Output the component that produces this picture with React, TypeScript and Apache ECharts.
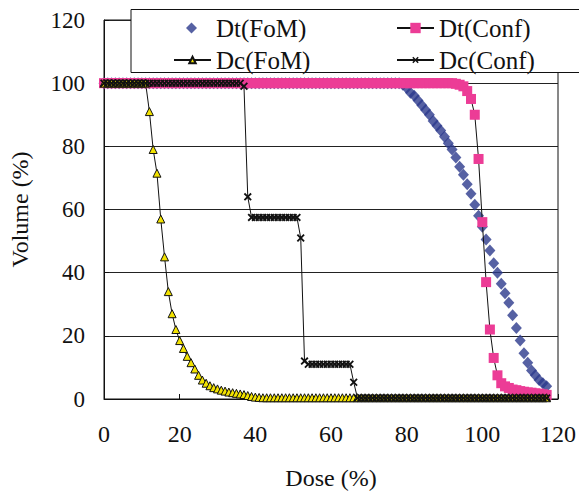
import React, { useEffect, useRef } from 'react';
import * as echarts from 'echarts';

const doses = [
  0, 1, 2, 3, 4, 5, 6, 7, 8, 9,
  10, 11, 12, 13, 14, 15, 16, 17, 18, 19,
  20, 21, 22, 23, 24, 25, 26, 27, 28, 29,
  30, 31, 32, 33, 34, 35, 36, 37, 38, 39,
  40, 41, 42, 43, 44, 45, 46, 47, 48, 49,
  50, 51, 52, 53, 54, 55, 56, 57, 58, 59,
  60, 61, 62, 63, 64, 65, 66, 67, 68, 69,
  70, 71, 72, 73, 74, 75, 76, 77, 78, 79,
  80, 81, 82, 83, 84, 85, 86, 87, 88, 89,
  90, 91, 92, 93, 94, 95, 96, 97, 98, 99,
  100, 101, 102, 103, 104, 105, 106, 107, 108, 109,
  110, 111, 112, 113, 114, 115, 116, 117,
];

const dtFoM = [
  100, 100, 100, 100, 100, 100, 100, 100, 100, 100,
  100, 100, 100, 100, 100, 100, 100, 100, 100, 100,
  100, 100, 100, 100, 100, 100, 100, 100, 100, 100,
  100, 100, 100, 100, 100, 100, 100, 100, 100, 100,
  100, 100, 100, 100, 100, 100, 100, 100, 100, 100,
  100, 100, 100, 100, 100, 100, 100, 100, 100, 100,
  100, 100, 100, 100, 100, 100, 100, 100, 100, 100,
  100, 100, 100, 100, 100, 100, 100, 100, 100, 99.5,
  98.5, 97, 96, 94.5, 93, 91.5, 90, 88, 86.5, 85,
  83, 81, 79, 76.5, 73.5, 71, 68, 65, 61.5, 58,
  54.5, 50.5, 47, 43, 40, 36.5, 33.5, 30.5, 26.5, 22.5,
  18.5, 14.5, 11.5, 9, 7.5, 6, 5, 4,
];

const dtConf = [
  100, 100, 100, 100, 100, 100, 100, 100, 100, 100,
  100, 100, 100, 100, 100, 100, 100, 100, 100, 100,
  100, 100, 100, 100, 100, 100, 100, 100, 100, 100,
  100, 100, 100, 100, 100, 100, 100, 100, 100, 100,
  100, 100, 100, 100, 100, 100, 100, 100, 100, 100,
  100, 100, 100, 100, 100, 100, 100, 100, 100, 100,
  100, 100, 100, 100, 100, 100, 100, 100, 100, 100,
  100, 100, 100, 100, 100, 100, 100, 100, 100, 100,
  100, 100, 100, 100, 100, 100, 100, 100, 100, 100,
  100, 100, 100, 99.8, 99.5, 99, 97.5, 95, 90, 76,
  56, 37, 22, 13, 7.5, 5, 4, 3.5, 3, 2.8,
  2.5, 2.3, 2.1, 2, 1.8, 1.7, 1.5, 1.3,
];

const dcFoM = [
  100, 100, 100, 100, 100, 100, 100, 100, 100, 100,
  100, 100, 91, 79, 71.5, 57, 45, 34, 27, 22,
  18.5, 16, 13.5, 11.5, 9.5, 7.5, 6, 5, 4.2, 3.6,
  3.2, 2.8, 2.5, 2.2, 2, 1.8, 1.6, 1.4, 1.1, 0.8,
  0.6, 0.5, 0.4, 0.4, 0.4, 0.4, 0.4, 0.4, 0.4, 0.4,
  0.4, 0.4, 0.4, 0.4, 0.4, 0.4, 0.4, 0.4, 0.4, 0.4,
  0.4, 0.4, 0.4, 0.4, 0.4, 0.4, 0.4, 0.4, 0.4, 0.4,
  0.4, 0.4, 0.4, 0.4, 0.4, 0.4, 0.4, 0.4, 0.4, 0.4,
  0.4, 0.4, 0.4, 0.4, 0.4, 0.4, 0.4, 0.4, 0.4, 0.4,
  0.4, 0.4, 0.4, 0.4, 0.4, 0.4, 0.4, 0.4, 0.4, 0.4,
  0.4, 0.4, 0.4, 0.4, 0.4, 0.4, 0.4, 0.4, 0.4, 0.4,
  0.4, 0.4, 0.4, 0.4, 0.4, 0.4, 0.4, 0.4,
];

const dcConf = [
  100, 100, 100, 100, 100, 100, 100, 100, 100, 100,
  100, 100, 100, 100, 100, 100, 100, 100, 100, 100,
  100, 100, 100, 100, 100, 100, 100, 100, 100, 100,
  100, 100, 100, 100, 100, 100, 100, 99, 64, 57.5,
  57.5, 57.5, 57.5, 57.5, 57.5, 57.5, 57.5, 57.5, 57.5, 57.5,
  57.5, 57.5, 51, 12, 11, 11, 11, 11, 11, 11,
  11, 11, 11, 11, 11, 11, 5.3, 0.3, 0.3, 0.3,
  0.3, 0.3, 0.3, 0.3, 0.3, 0.3, 0.3, 0.3, 0.3, 0.3,
  0.3, 0.3, 0.3, 0.3, 0.3, 0.3, 0.3, 0.3, 0.3, 0.3,
  0.3, 0.3, 0.3, 0.3, 0.3, 0.3, 0.3, 0.3, 0.3, 0.3,
  0.3, 0.3, 0.3, 0.3, 0.3, 0.3, 0.3, 0.3, 0.3, 0.3,
  0.3, 0.3, 0.3, 0.3, 0.3, 0.3, 0.3, 0.3,
];

const seriesNames = ['Dt(FoM)', 'Dt(Conf)', 'Dc(FoM)', 'Dc(Conf)'];
const xAxisName = 'Dose (%)';
const yAxisName = 'Volume (%)';

const FONT = '"Liberation Serif", "Times New Roman", serif';
const NAVY = '#2C3A8C';
const PINK = '#EC3C96';
const YELLOW = '#F2E200';
const CROSS =
  'path://M0,1.6L1.6,0L5,3.4L8.4,0L10,1.6L6.6,5L10,8.4L8.4,10L5,6.6L1.6,10L0,8.4L3.4,5Z';

export default function App() {
  const ref = useRef<HTMLDivElement>(null);

  useEffect(() => {
    const chart = echarts.init(ref.current as HTMLDivElement, null, { renderer: 'svg' });
    const pairs = (ys: number[]) => doses.map((d, i) => [d, ys[i]]);

    const textStyle = { fontFamily: FONT, fontSize: 25, color: '#111' };
    const legendBase = {
      orient: 'horizontal',
      padding: 0,
      itemWidth: 37,
      itemGap: 5,
      selectedMode: false,
      z: 20,
      textStyle,
    };

    chart.setOption({
      animation: false,
      grid: {
        left: 103,
        right: 19,
        top: 20,
        bottom: 95,
        show: true,
        borderColor: '#111',
        borderWidth: 1,
        backgroundColor: '#fff',
      },
      xAxis: {
        type: 'value',
        min: 0,
        max: 120,
        interval: 20,
        name: xAxisName,
        nameLocation: 'middle',
        nameGap: 67,
        nameTextStyle: { fontFamily: FONT, fontSize: 24, color: '#111' },
        axisLine: { show: true, lineStyle: { color: '#111', width: 1 } },
        axisTick: { show: true, inside: true, length: 5, lineStyle: { color: '#111' } },
        axisLabel: { fontFamily: FONT, fontSize: 24, color: '#111', margin: 23 },
        splitLine: { show: false },
      },
      yAxis: {
        type: 'value',
        min: 0,
        max: 120,
        interval: 20,
        name: yAxisName,
        nameLocation: 'middle',
        nameGap: 72,
        nameTextStyle: { fontFamily: FONT, fontSize: 24, color: '#111' },
        axisLine: { show: true, lineStyle: { color: '#111', width: 1 } },
        axisTick: { show: true, inside: true, length: 5, lineStyle: { color: '#111' } },
        axisLabel: { fontFamily: FONT, fontSize: 23, color: '#111', margin: 19 },
        splitLine: { show: true, lineStyle: { color: '#222', width: 1 } },
      },
      graphic: [
        {
          type: 'rect',
          z: 10,
          shape: { x: 131, y: 9.5, width: 470, height: 63 },
          style: { fill: '#fff', stroke: '#111', lineWidth: 1 },
        },
      ],
      legend: [
        {
          ...legendBase,
          data: [seriesNames[0]],
          left: 186,
          top: 15.5,
          itemWidth: 11,
          itemHeight: 11,
          textStyle: { ...textStyle, padding: [0, 0, 0, 14] },
        },
        { ...legendBase, data: [seriesNames[1]], left: 396, top: 15.5, itemHeight: 13 },
        { ...legendBase, data: [seriesNames[2]], left: 173, top: 47.5, itemHeight: 8 },
        { ...legendBase, data: [seriesNames[3]], left: 396, top: 47.5, itemHeight: 8 },
      ],
      series: [
        {
          name: seriesNames[0],
          type: 'scatter',
          symbol: 'diamond',
          symbolSize: [11, 12],
          itemStyle: { color: NAVY },
          data: pairs(dtFoM),
        },
        {
          name: seriesNames[1],
          type: 'line',
          symbol: 'rect',
          symbolSize: 10,
          itemStyle: { color: PINK },
          lineStyle: { color: '#111', width: 1 },
          data: pairs(dtConf),
        },
        {
          name: seriesNames[2],
          type: 'line',
          symbol: 'triangle',
          symbolSize: 8,
          itemStyle: { color: YELLOW, borderColor: '#111', borderWidth: 1 },
          lineStyle: { color: '#111', width: 1 },
          data: pairs(dcFoM),
        },
        {
          name: seriesNames[3],
          type: 'line',
          symbol: CROSS,
          symbolSize: 8,
          itemStyle: { color: '#111' },
          lineStyle: { color: '#111', width: 1 },
          data: pairs(dcConf),
        },
      ],
    });

    return () => chart.dispose();
  }, []);

  return (
    <div
      ref={ref}
      style={{ position: 'fixed', left: 0, top: 0, width: 579, height: 495, background: '#fff' }}
    />
  );
}
